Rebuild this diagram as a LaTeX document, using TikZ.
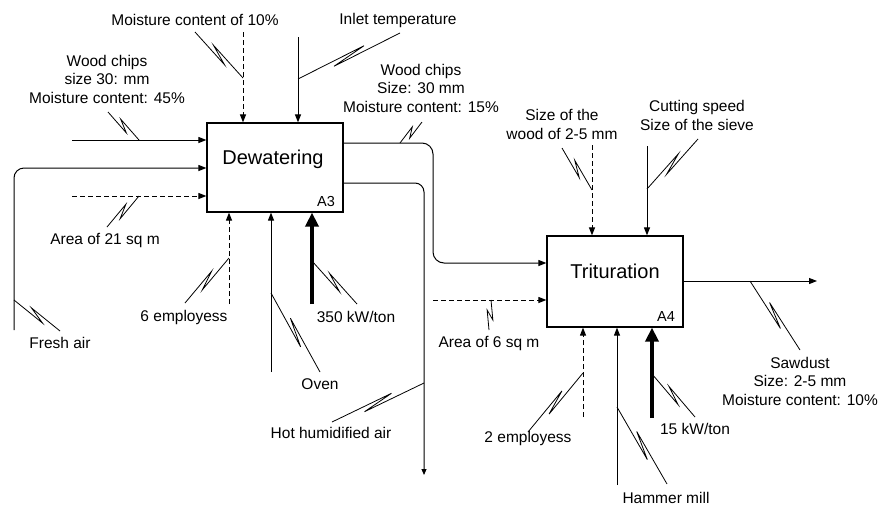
\documentclass[tikz,border=0pt]{standalone}
\usepackage{fontspec}
\setmainfont{Liberation Sans}
\usetikzlibrary{arrows.meta,calc}
% lightning-style leaders from a flow line to its label, in both hands
\newcommand{\zigN}[2]{%
  \draw[zig] (#1) -- ($(#1)!0.66!(#2)!3.2pt!-90:(#2)$)
                  -- ($(#1)!0.34!(#2)!3.2pt!90:(#2)$) -- (#2);}
\newcommand{\zigP}[2]{%
  \draw[zig] (#1) -- ($(#1)!0.66!(#2)!3.2pt!90:(#2)$)
                  -- ($(#1)!0.34!(#2)!3.2pt!-90:(#2)$) -- (#2);}
\begin{document}
\begin{tikzpicture}[x=1pt,y=-1pt,
  flow/.style={line width=1pt,-{Triangle[length=8pt,width=6pt]}},
  ctrl/.style={flow,dash pattern=on 5pt off 3pt},
  power/.style={line width=3.6pt,-{Triangle[length=14pt,width=13pt]}},
  zig/.style={line width=0.8pt},
  box/.style={draw,line width=1.2pt,minimum width=136pt,minimum height=89pt,inner sep=0pt},
  title/.style={font=\fontsize{20}{24}\selectfont,inner sep=0pt},
  code/.style={font=\fontsize{14.5}{17}\selectfont,inner sep=0pt},
  lbl/.style={font=\fontsize{15.5}{18.5}\selectfont,align=center,inner sep=0pt}]
\useasboundingbox (0,0) rectangle (881,507);

% ---- activity boxes ----
\node[box] (dw) at (275,167.5) {};
\node[title] (dwt) at (273,159) {Dewatering};
\node[code] (dwc) at (326,202) {A3};
\node[box,minimum height=91pt] (tr) at (615,281.5) {};
\node[title] (trt) at (615,271) {Trituration};
\node[code] (trc) at (666,317) {A4};

% ---- Dewatering: inputs, controls, mechanisms ----
\coordinate (wcin) at (72,140);
\draw[flow] (wcin) -- (wcin -| dw.west);
\coordinate (fa) at (14,330);
\coordinate (fac) at (14,168);
\draw[flow,rounded corners=10pt] (fa) -- (fac) -- (fac -| dw.west);
\coordinate (a21) at (72,196);
\draw[ctrl] (a21) -- (a21 -| dw.west);
\coordinate (m10) at (243,32);
\draw[ctrl] (m10) -- (m10 |- dw.north);
\coordinate (it) at (298,37);
\draw[flow] (it) -- (it |- dw.north);
\coordinate (e6) at (229,304);
\draw[ctrl] (e6) -- (e6 |- dw.south);
\coordinate (ov) at (271,372);
\draw[flow] (ov) -- (ov |- dw.south);
\coordinate (p350) at (312,304);
\draw[power] (p350) -- (p350 |- dw.south);

% ---- Dewatering outputs ----
\coordinate (o1) at (343,143);
\coordinate (o1a) at (433,143);
\coordinate (o1b) at (433,263);
\draw[flow,rounded corners=11pt] (o1) -- (o1a) -- (o1b) -- (o1b -| tr.west);
\coordinate (o2) at (343,183);
\coordinate (o2a) at (424,183);
\coordinate (o2b) at (424,475);
\draw[line width=1pt,rounded corners=9pt,-{Triangle[length=6pt,width=5pt]}] (o2) -- (o2a) -- (o2b);

% ---- Trituration: inputs, controls, mechanisms, output ----
\coordinate (a6) at (433,300);
\draw[ctrl] (a6) -- (a6 -| tr.west);
\coordinate (sw) at (592,145);
\draw[ctrl] (sw) -- (sw |- tr.north);
\coordinate (cs) at (647,146);
\draw[flow] (cs) -- (cs |- tr.north);
\coordinate (e2) at (583,417);
\draw[ctrl] (e2) -- (e2 |- tr.south);
\coordinate (hm) at (617,485);
\draw[flow] (hm) -- (hm |- tr.south);
\coordinate (p15) at (652,418);
\draw[power] (p15) -- (p15 |- tr.south);
\coordinate (sdo) at (817,281);
\draw[flow] (sdo -| tr.east) -- (sdo);

% ---- labels ----
\node[lbl] (lwc) at (107,79) {Wood chips\\size 30: mm\\Moisture content: 45\%};
\node[lbl] (lm10) at (195,20) {Moisture content of 10\%};
\node[lbl] (lit) at (398,20) {Inlet temperature};
\node[lbl] (lwc15) at (421,88) {Wood chips\\Size: 30 mm\\Moisture content: 15\%};
\node[lbl] (la21) at (105,240) {Area of 21 sq m};
\node[lbl] (lfa) at (60,343) {Fresh air};
\node[lbl] (le6) at (184,317) {6 employess};
\node[lbl] (lp350) at (356,317) {350 kW/ton};
\node[lbl] (lov) at (320,384) {Oven};
\node[lbl] (lhh) at (331,433) {Hot humidified air};
\node[lbl] (lsw) at (562,124.5) {Size of the\\wood of 2-5 mm};
\node[lbl] (lcs) at (697,115.5) {Cutting speed\\Size of the sieve};
\node[lbl] (la6) at (489,343) {Area of 6 sq m};
\node[lbl] (le2) at (528,438) {2 employess};
\node[lbl] (lhm) at (666,498) {Hammer mill};
\node[lbl] (lp15) at (695,429) {15 kW/ton};
\node[lbl] (lsd) at (800,381) {Sawdust\\Size: 2-5 mm\\Moisture content: 10\%};

% ---- leaders: point on the line, point near the label ----
\coordinate (zwc1) at (139,140);  \coordinate (zwc2) at (108,112);
\coordinate (zm1) at (243,78);    \coordinate (zm2) at (195,32);
\coordinate (zit1) at (298,79);   \coordinate (zit2) at (400,33);
\coordinate (za21a) at (139,196); \coordinate (za21b) at (107,227);
\coordinate (zfa1) at (14,300);   \coordinate (zfa2) at (60,331);
\coordinate (ze6a) at (229,258);  \coordinate (ze6b) at (185,303);
\coordinate (zov1) at (271,293);  \coordinate (zov2) at (320,372);
\coordinate (zp1) at (312,261);   \coordinate (zp2) at (357,304);
\coordinate (zo1) at (400,143);   \coordinate (zo2) at (422,122);
\coordinate (zhh1) at (424,383);  \coordinate (zhh2) at (332,422);
\coordinate (za6a) at (491,300);  \coordinate (za6b) at (489,330);
\coordinate (zsw1) at (592,190);  \coordinate (zsw2) at (562,148);
\coordinate (zcs1) at (647,189);  \coordinate (zcs2) at (698,139);
\coordinate (ze2a) at (583,373);  \coordinate (ze2b) at (528,432);
\coordinate (zhm1) at (617,407);  \coordinate (zhm2) at (667,484);
\coordinate (zq1) at (652,374);   \coordinate (zq2) at (695,417);
\coordinate (zsd1) at (750,281);  \coordinate (zsd2) at (800,350);
\zigN{zwc1}{zwc2}
\zigN{zm1}{zm2}
\zigP{zit1}{zit2}
\zigP{za21a}{za21b}
\zigN{zfa1}{zfa2}
\zigP{ze6a}{ze6b}
\zigN{zov1}{zov2}
\zigN{zp1}{zp2}
\zigP{zo1}{zo2}
\zigP{zhh1}{zhh2}
\zigP{za6a}{za6b}
\zigN{zsw1}{zsw2}
\zigP{zcs1}{zcs2}
\zigP{ze2a}{ze2b}
\zigN{zhm1}{zhm2}
\zigN{zq1}{zq2}
\zigN{zsd1}{zsd2}
\end{tikzpicture}
\end{document}
